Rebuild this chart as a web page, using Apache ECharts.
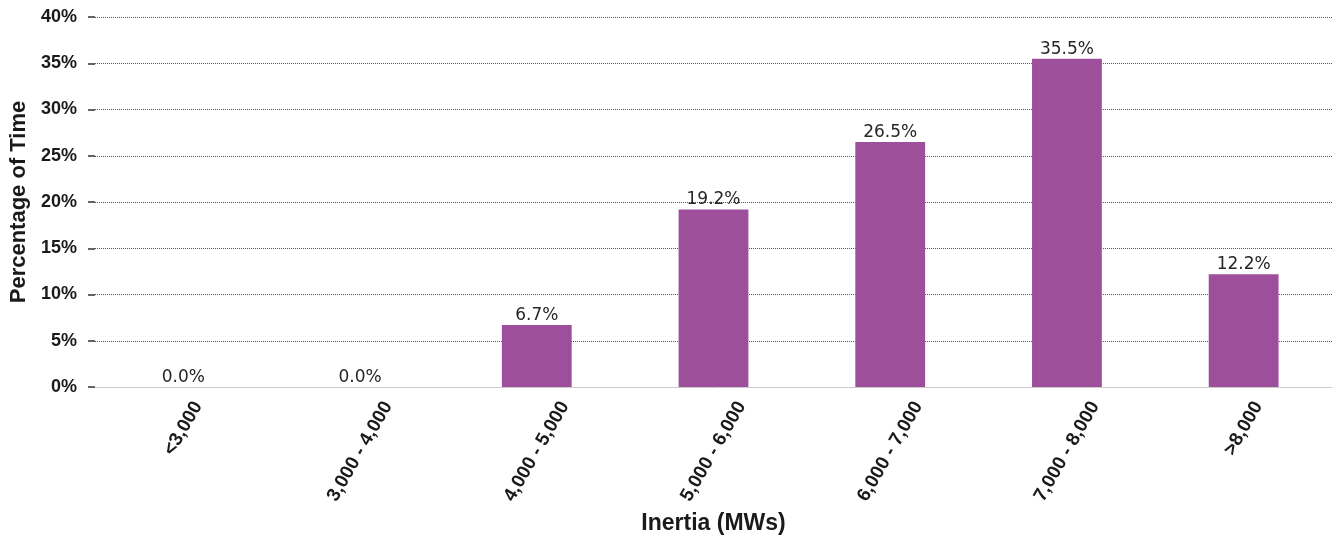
<!DOCTYPE html>
<html><head><meta charset="utf-8">
<script src="https://cdn.jsdelivr.net/npm/echarts@6/dist/echarts.min.js"></script>
<style>html,body{margin:0;padding:0;background:#fff}#c{width:1340px;height:536px}</style>
</head><body><div id="c"></div>
<script>
var categories = ['<3,000','3,000 - 4,000','4,000 - 5,000','5,000 - 6,000','6,000 - 7,000','7,000 - 8,000','>8,000'];
var values = [0.0, 0.0, 6.7, 19.2, 26.5, 35.5, 12.2];
var yTicks = [0, 5, 10, 15, 20, 25, 30, 35, 40];

var catFont = 'bold 19px "Liberation Sans"';
var ctx = document.createElement('canvas').getContext('2d');
ctx.font = catFont;
// per-label rich styles so the rotated label's box is centred under its tick (matplotlib ha=center)
var rich = {};
categories.forEach(function (c, i) {
  var L = ctx.measureText(c).width;
  var v = 0.433 * L;
  rich['c' + i] = {
    fontFamily: 'Liberation Sans', fontWeight: 'bold', fontSize: 19, color: '#1a1a1a',
    padding: [v, 1.732 * v, 0, 0]
  };
});

var chart = echarts.init(document.getElementById('c'));
chart.setOption({
  animation: false,
  grid: {left: 95, right: 8, top: 17, bottom: 149, containLabel: false, outerBoundsMode: 'none'},
  xAxis: {
    type: 'category', data: categories,
    name: 'Inertia (MWs)', nameLocation: 'middle', nameGap: 120,
    nameTextStyle: {fontFamily: 'Liberation Sans', fontWeight: 'bold', fontSize: 23, color: '#1a1a1a'},
    axisLine: {lineStyle: {color: '#cccccc', width: 1}},
    axisTick: {alignWithLabel: true, length: 6, lineStyle: {color: '#333', width: 1.5}},
    axisLabel: {
      interval: 0, rotate: 60, margin: 16, align: 'center', verticalAlign: 'middle',
      formatter: function (val, idx) { return '{c' + idx + '|' + val + '}'; },
      rich: rich
    },
    splitLine: {show: false}
  },
  yAxis: {
    type: 'value', min: 0, max: 40, interval: 5,
    name: 'Percentage of Time', nameLocation: 'middle', nameGap: 61, nameRotate: 90,
    nameTextStyle: {fontFamily: 'Liberation Sans', fontWeight: 'bold', fontSize: 22, color: '#1a1a1a'},
    axisLine: {show: false},
    axisTick: {show: true, length: 7, lineStyle: {color: '#333', width: 1.5}},
    axisLabel: {margin: 18, fontFamily: 'Liberation Sans', fontWeight: 'bold', fontSize: 18, color: '#1a1a1a',
      formatter: function (v) { return yTicks.indexOf(v) >= 0 ? v + '%' : ''; }},
    splitLine: {lineStyle: {type: 'dotted', color: '#555', width: 1}}
  },
  series: [{
    type: 'bar', data: values, barWidth: '39.5%',
    itemStyle: {color: '#9e4f9b'},
    label: {show: true, position: 'top', distance: 1, fontFamily: 'DejaVu Sans', fontSize: 17, color: '#262626',
      formatter: function (p) { return p.value.toFixed(1) + '%'; }}
  }]
});
</script></body></html>
